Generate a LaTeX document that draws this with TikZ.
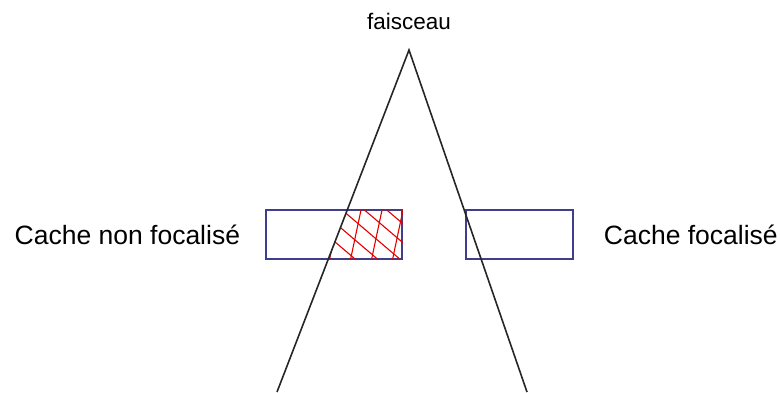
\documentclass[tikz,border=0pt]{standalone}
\usepackage{fontspec}
\setmainfont{Liberation Sans}
\usetikzlibrary{positioning}
\definecolor{bordcache}{RGB}{62,62,140}
\tikzset{
  cache/.style={draw=bordcache, line width=1.5pt, minimum height=49pt, inner sep=0pt},
  rayon/.style={line width=1.6pt, black!85},
  hachure/.style={red!90!black, line width=1.1pt},
  legende/.style={font=\fontsize{26.5}{30}\selectfont, inner sep=0pt},
}

\begin{document}
\begin{tikzpicture}[x=1pt, y=-1pt]
  \useasboundingbox (0,0) rectangle (780,392);
  \node[cache, minimum width=136pt] (nonfoc) at (334,234.5) {};
  \node[cache, minimum width=107pt] (foc) at (519.5,234.5) {};
  \coordinate (sommet) at (409,50);
  \coordinate (basg) at (277,392);
  \coordinate (basd) at (527,392);
  % hachures dans la partie du cache traversee par le faisceau
  \begin{scope}
    \clip (sommet) -- (basg) -- (basd) -- cycle;
    \clip (nonfoc.north west) rectangle (nonfoc.south east);
    \foreach \xb in {329,350,371,392}
      \draw[hachure] (\xb,262) -- (\xb+12.5,203);
    \foreach \c in {175,194,213,232,251,270}
      \draw[hachure] (320,\c-40.8) -- (410,\c+35.7);
  \end{scope}
  \draw[rayon] (basg) -- (sommet) -- (basd);
  \node[legende, left=25pt of nonfoc] (lblnonfoc) {Cache non focalisé};
  \node[legende, right=30pt of foc] (lblfoc) {Cache focalisé};
  \node[font=\fontsize{22.5}{26}\selectfont, inner sep=0pt, above=20pt of sommet] (lblfaisceau) {faisceau};
\end{tikzpicture}
\end{document}
